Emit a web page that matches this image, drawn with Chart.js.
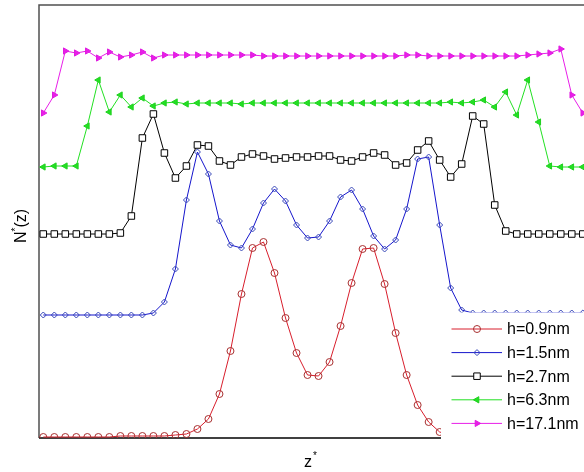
<!DOCTYPE html>
<html><head><meta charset="utf-8">
<script src="https://cdn.jsdelivr.net/npm/chart.js@4/dist/chart.umd.min.js"></script>
<style>html,body{margin:0;padding:0;background:#fff;overflow:hidden}</style>
</head><body>
<canvas id="c" width="584" height="472"></canvas>
<script>
// z* sample index (categories)
const zIndex = [0,1,2,3,4,5,6,7,8,9,10,11,12,13,14,15,16,17,18,19,20,21,22,23,24,25,26,27,28,29,30,31,32,33,34,35,36,37,38,39,40,41,42,43,44,45,46,47,48,49];
const seriesNames = ['h=0.9nm','h=1.5nm','h=2.7nm','h=6.3nm','h=17.1nm'];
// N*(z) values (curves offset vertically as in the figure)
const n09 = [0.01,0.01,0.01,0.01,0.01,0.01,0.01,0.02,0.02,0.02,0.02,0.02,0.03,0.04,0.09,0.19,0.44,0.87,1.44,1.90,1.96,1.65,1.20,0.85,0.63,0.62,0.76,1.12,1.55,1.89,1.90,1.54,1.05,0.63,0.33,0.16,0.06,0.03,0.02,0.01,0.01,0.01,0.01,0.01,0.01,0.01,0.01,0.01,0.01,0.01];
const n15 = [1.23,1.23,1.23,1.23,1.23,1.23,1.23,1.23,1.23,1.23,1.25,1.36,1.69,2.38,2.86,2.64,2.17,1.93,1.90,2.09,2.35,2.49,2.37,2.13,2.00,2.01,2.17,2.41,2.48,2.29,2.02,1.89,1.98,2.29,2.79,2.81,2.13,1.50,1.28,1.25,1.25,1.25,1.25,1.25,1.25,1.25,1.25,1.25,1.25,1.25];
const n27 = [2.04,2.04,2.04,2.04,2.04,2.04,2.04,2.05,2.22,3.00,3.24,2.85,2.60,2.72,2.93,2.92,2.77,2.73,2.81,2.84,2.82,2.79,2.80,2.81,2.81,2.82,2.82,2.78,2.77,2.81,2.85,2.83,2.73,2.75,2.88,2.97,2.78,2.61,2.74,3.22,3.14,2.33,2.07,2.04,2.04,2.04,2.04,2.04,2.04,2.04];
const n63 = [2.71,2.72,2.72,2.72,3.12,3.58,3.26,3.43,3.31,3.40,3.32,3.35,3.36,3.34,3.35,3.35,3.35,3.35,3.34,3.35,3.35,3.35,3.35,3.35,3.35,3.35,3.35,3.35,3.35,3.35,3.35,3.35,3.35,3.35,3.35,3.35,3.35,3.36,3.35,3.36,3.38,3.31,3.46,3.23,3.58,3.16,2.72,2.71,2.71,2.71];
const n171 = [3.25,3.43,3.87,3.85,3.87,3.80,3.86,3.81,3.83,3.86,3.80,3.83,3.83,3.83,3.83,3.83,3.83,3.83,3.83,3.83,3.82,3.82,3.82,3.82,3.82,3.82,3.82,3.82,3.82,3.82,3.82,3.82,3.82,3.83,3.83,3.82,3.82,3.82,3.82,3.82,3.82,3.82,3.82,3.82,3.83,3.84,3.85,3.89,3.43,3.25];

const seriesValues = [n09, n15, n27, n63, n171];
const styles = [
  {line:'#d81e2c', pb:'#a83030', pf:'rgba(0,0,0,0)', ps:'circle', r:3.5, rot:0},
  {line:'#1515cc', pb:'#3848b8', pf:'rgba(0,0,0,0)', ps:'rectRot', r:3, rot:0},
  {line:'#000000', pb:'#000000', pf:'#ffffff', ps:'rect', r:4.6, rot:0},
  {line:'#22e022', pb:'#20d020', pf:'#22e022', ps:'triangle', r:3.6, rot:-90},
  {line:'#e81ee8', pb:'#e01ae0', pf:'#e81ee8', ps:'triangle', r:3.6, rot:90}
];

const datasets = seriesValues.map((vals, k) => ({
  label: seriesNames[k],
  data: zIndex.map((z, i) => ({x: z, y: vals[i]})),
  borderColor: styles[k].line,
  borderWidth: 1,
  pointStyle: styles[k].ps,
  pointRadius: styles[k].r,
  pointRotation: styles[k].rot,
  pointBorderColor: styles[k].pb,
  pointBackgroundColor: styles[k].pf,
  pointBorderWidth: 1,
  tension: 0,
  fill: false
}));

function marker(ctx, st, x, y) {
  ctx.save();
  ctx.strokeStyle = st.pb; ctx.fillStyle = st.pf; ctx.lineWidth = 1;
  const r = st.r;
  ctx.beginPath();
  if (st.ps === 'circle') {
    ctx.arc(x, y, r, 0, Math.PI * 2);
  } else if (st.ps === 'rectRot') {
    ctx.moveTo(x - r, y); ctx.lineTo(x, y - r); ctx.lineTo(x + r, y); ctx.lineTo(x, y + r);
  } else if (st.ps === 'rect') {
    const s = Math.SQRT1_2 * r;
    ctx.rect(x - s, y - s, 2 * s, 2 * s);
  } else {
    const rad = st.rot * Math.PI / 180;
    for (let j = 0; j < 3; j++) {
      const a = rad + j * 2 * Math.PI / 3;
      const px = x + Math.sin(a) * r, py = y - Math.cos(a) * r;
      if (j === 0) ctx.moveTo(px, py); else ctx.lineTo(px, py);
    }
  }
  ctx.closePath();
  ctx.fill(); ctx.stroke();
  ctx.restore();
}

const framePlugin = {
  id: 'frame',
  beforeDatasetsDraw(chart) {
    const {ctx, chartArea: a} = chart;
    ctx.save();
    ctx.lineWidth = 1.5;
    ctx.strokeStyle = '#505050';
    ctx.beginPath();
    ctx.moveTo(a.left, a.bottom); ctx.lineTo(a.left, a.top); ctx.lineTo(a.right, a.top);
    ctx.stroke();
    ctx.strokeStyle = '#000';
    ctx.beginPath();
    ctx.moveTo(a.left, a.bottom); ctx.lineTo(a.right, a.bottom);
    ctx.stroke();
    ctx.restore();
  },
  afterDraw(chart) {
    const ctx = chart.ctx;
    ctx.save();
    // legend box
    ctx.fillStyle = '#ffffff';
    ctx.fillRect(441, 312.5, 150, 126.5);
    ctx.font = '16px "Liberation Sans", Arial, sans-serif';
    ctx.textBaseline = 'middle';
    ctx.textAlign = 'left';
    chart.data.datasets.forEach((ds, k) => {
      const y = 329 + k * 23.6;
      const st = styles[k];
      ctx.strokeStyle = st.line; ctx.lineWidth = 1;
      ctx.beginPath(); ctx.moveTo(451.5, y); ctx.lineTo(502, y); ctx.stroke();
      marker(ctx, st, 477, y);
      ctx.fillStyle = '#000';
      ctx.fillText(ds.label, 507, y + 1);
    });
    // axis titles
    ctx.fillStyle = '#000';
    ctx.textBaseline = 'alphabetic';
    ctx.font = '16px "Liberation Sans", Arial, sans-serif';
    ctx.fillText('z', 304, 467);
    ctx.font = '10px "Liberation Sans", Arial, sans-serif';
    ctx.fillText('*', 313, 459);
    ctx.translate(26, 243);
    ctx.rotate(-Math.PI / 2);
    ctx.font = '16px "Liberation Sans", Arial, sans-serif';
    ctx.fillText('N', 0, 0);
    const wN = ctx.measureText('N').width;
    ctx.font = '10px "Liberation Sans", Arial, sans-serif';
    ctx.fillText('*', wN, -7);
    const wS = ctx.measureText('*').width;
    ctx.font = '16px "Liberation Sans", Arial, sans-serif';
    ctx.fillText('(z)', wN + wS, 0);
    ctx.restore();
  }
};

new Chart(document.getElementById('c'), {
  type: 'line',
  data: {datasets},
  options: {
    responsive: false,
    animation: false,
    events: [],
    layout: {autoPadding: false, padding: {left: 39, top: 5, right: 0, bottom: 34}},
    plugins: {legend: {display: false}, tooltip: {enabled: false}},
    scales: {
      x: {type: 'linear', display: false, min: -0.39, max: 49.11},
      y: {type: 'linear', display: false, min: 0, max: 4.33}
    }
  },
  plugins: [framePlugin]
});
</script>
</body></html>
